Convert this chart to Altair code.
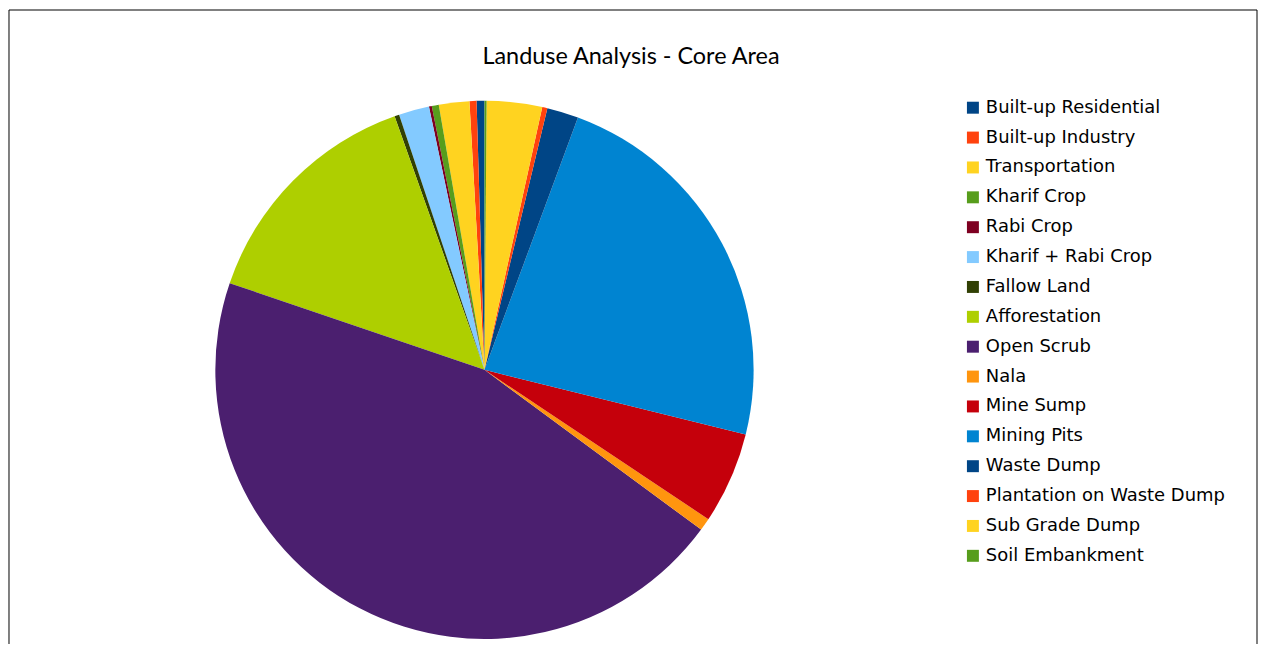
import altair as alt
import pandas as pd

TITLE = "Landuse Analysis - Core Area"
categories = ["Built-up Residential", "Built-up Industry", "Transportation", "Kharif Crop",
              "Rabi Crop", "Kharif + Rabi Crop", "Fallow Land", "Afforestation", "Open Scrub",
              "Nala", "Mine Sump", "Mining Pits", "Waste Dump", "Plantation on Waste Dump",
              "Sub Grade Dump", "Soil Embankment"]
shares = [0.47, 0.42, 1.83, 0.42, 0.17, 1.83, 0.28, 14.36, 45.11, 0.75, 5.50, 23.22,
          1.89, 0.31, 3.32, 0.125]
colors = ["#004586", "#FF420E", "#FFD320", "#579D1C", "#7E0021", "#83CAFF", "#314004",
          "#AECF00", "#4B1F6F", "#FF950E", "#C5000B", "#0084D1", "#004586", "#FF420E",
          "#FFD320", "#579D1C"]

W, H = 1252, 636

df = pd.DataFrame({"category": categories, "share": shares, "idx": list(range(len(categories)))})

pie = alt.Chart(df).mark_arc(radius=270, stroke=None).encode(
    theta=alt.Theta("share:Q", stack=True),
    color=alt.Color("category:N", scale=alt.Scale(domain=categories, range=colors),
                    legend=alt.Legend(title=None, orient="none", legendX=958, legendY=89,
                                      symbolType="square", symbolSize=144, symbolStrokeWidth=0,
                                      labelFont="DejaVu Sans", labelFontSize=18, labelColor="#000000",
                                      labelOffset=4, rowPadding=11.97, padding=0, labelLimit=400)),
    order=alt.Order("idx:Q", sort="descending"),
    x=alt.value(477),
    y=alt.value(361),
)

title = alt.Chart(pd.DataFrame({"t": [TITLE]})).mark_text(
    font="Lato", fontSize=23.5, color="#000000", align="center", baseline="alphabetic"
).encode(text="t:N", x=alt.value(624), y=alt.value(54))

border_top = alt.Chart(pd.DataFrame({"a": [0]})).mark_rule(color="#000000", strokeWidth=1).encode(
    x=alt.value(0), x2=alt.value(W), y=alt.value(0))
border_left = alt.Chart(pd.DataFrame({"a": [0]})).mark_rule(color="#000000", strokeWidth=1).encode(
    x=alt.value(0), y=alt.value(0), y2=alt.value(H))
border_right = alt.Chart(pd.DataFrame({"a": [0]})).mark_rule(color="#000000", strokeWidth=1).encode(
    x=alt.value(W), y=alt.value(0), y2=alt.value(H))

chart = alt.layer(pie, title, border_top, border_left, border_right).properties(
    width=W, height=H, padding=0
).configure_view(stroke=None)

chart.save("out.html", embed_options={"renderer": "svg", "actions": False})
